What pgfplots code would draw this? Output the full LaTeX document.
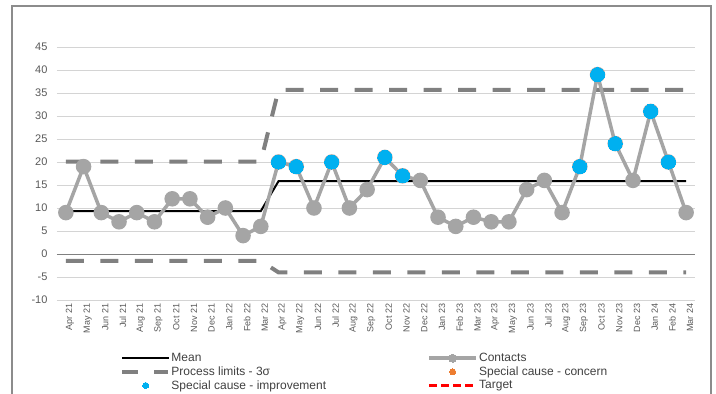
\documentclass[border=0pt]{standalone}
\usepackage{pgfplots}
\pgfplotsset{compat=1.18}
\usepackage{pgfplotstable}
\usepackage{fontspec}
\setmainfont{Liberation Sans}

\definecolor{contact}{HTML}{A5A5A5}
\definecolor{limitc}{HTML}{808080}
\definecolor{improve}{HTML}{00B0F0}
\definecolor{concern}{HTML}{ED7D31}
\definecolor{gridc}{HTML}{D4D4D4}
\definecolor{ticktext}{HTML}{595959}
\definecolor{legtext}{HTML}{404040}
\definecolor{framec}{HTML}{8C8C8C}

% Monthly contacts, Apr 21 (0) to Mar 24 (35)
\pgfplotstableread{
idx val
0 9
1 19
2 9
3 7
4 9
5 7
6 12
7 12
8 8
9 10
10 4
11 6
12 20
13 19
14 10
15 20
16 10
17 14
18 21
19 17
20 16
21 8
22 6
23 8
24 7
25 7
26 14
27 16
28 9
29 19
30 39
31 24
32 16
33 31
34 20
35 9
}\contacts

% Points flagged as special cause (improvement)
\pgfplotstableread{
idx val
12 20
13 19
15 20
18 21
19 17
29 19
30 39
31 24
33 31
34 20
}\improvement

% Mean and 3-sigma limits for the two periods
\pgfplotstableread{
idx mean ucl lcl
0 9.33 20.1 -1.5
11 9.33 20.1 -1.5
12 15.83 35.7 -4.0
35 15.83 35.7 -4.0
}\limits

\begin{document}
\begin{tikzpicture}
\path[use as bounding box] (0,0) rectangle (716pt,394pt);
\draw[framec, line width=2pt] (12pt,-5pt) -- (12pt,388pt) -- (711pt,388pt) -- (711pt,-5pt);
\begin{axis}[
  scale only axis,
  width=638pt, height=253pt,
  at={(57pt,94pt)}, anchor=south west,
  xmin=-0.5, xmax=35.5,
  ymin=-10, ymax=45,
  ytick={-10,-5,...,45},
  xtick={0,...,35},
  xticklabels={Apr 21,May 21,Jun 21,Jul 21,Aug 21,Sep 21,Oct 21,Nov 21,Dec 21,Jan 22,Feb 22,Mar 22,
               Apr 22,May 22,Jun 22,Jul 22,Aug 22,Sep 22,Oct 22,Nov 22,Dec 22,Jan 23,Feb 23,Mar 23,
               Apr 23,May 23,Jun 23,Jul 23,Aug 23,Sep 23,Oct 23,Nov 23,Dec 23,Jan 24,Feb 24,Mar 24},
  /pgf/number format/assume math mode=true,
  axis line style={draw=none},
  major tick length=0pt,
  ymajorgrids,
  grid style={gridc, line width=1pt},
  extra y ticks={0},
  extra y tick labels={},
  extra y tick style={grid style={limitc, line width=1pt}},
  yticklabel style={font=\rmfamily\fontsize{11}{13}\selectfont, text=ticktext, xshift=-6pt},
  xticklabel style={rotate=90, anchor=east, font=\rmfamily\fontsize{9}{10}\selectfont, text=ticktext, yshift=-4pt},
  clip=false,
  legend columns=2,
  legend cell align=left,
  legend style={draw=none, fill=none, at={(0.094,-0.198)}, anchor=north west,
    font=\fontsize{12}{14}\selectfont, text=legtext,
    /tikz/every even column/.append style={column sep=100pt},
    row sep=1.5pt, nodes={inner sep=1pt}},
  legend image code/.code={\draw[mark repeat=2,mark phase=2,#1] plot coordinates {(0pt,0pt) (23.5pt,0pt) (47pt,0pt)};},
]
% control limits
\addplot[forget plot, limitc, line width=4pt, dash pattern=on 18pt off 16.5pt] table[x=idx, y=ucl] {\limits};
\addplot[forget plot, limitc, line width=4pt, dash pattern=on 18pt off 16.5pt] table[x=idx, y=lcl] {\limits};
% mean
\addplot[forget plot, black, line width=2pt] table[x=idx, y=mean] {\limits};
% contacts
\addplot[forget plot, contact, line width=3.5pt, mark=*, mark size=6pt, mark options={fill=contact, draw=none}] table[x=idx, y=val] {\contacts};
% special cause points
\addplot[forget plot, improve, only marks, mark=*, mark size=7pt, mark options={draw=improve, fill=improve, line width=0pt}] table[x=idx, y=val] {\improvement};

% legend
\addlegendimage{black, line width=2.5pt}
\addlegendentry{Mean}
\addlegendimage{contact, line width=4pt, mark=*, mark size=4pt, mark options={fill=contact, draw=contact, line width=0pt}}
\addlegendentry{Contacts}
\addlegendimage{legend image code/.code={\draw[limitc, line width=4pt] (0pt,0pt) -- (16pt,0pt) (32pt,0pt) -- (46pt,0pt);}}
\addlegendentry{Process limits - 3σ}
\addlegendimage{concern, only marks, mark=*, mark size=3pt, mark options={fill=concern, draw=concern, line width=0pt}}
\addlegendentry{Special cause - concern}
\addlegendimage{improve, only marks, mark=*, mark size=3pt, mark options={fill=improve, draw=improve, line width=0pt}}
\addlegendentry{Special cause  - improvement}
\addlegendimage{red, line width=2.5pt, dash pattern=on 8pt off 4pt}
\addlegendentry{Target}
\end{axis}
\end{tikzpicture}
\end{document}
